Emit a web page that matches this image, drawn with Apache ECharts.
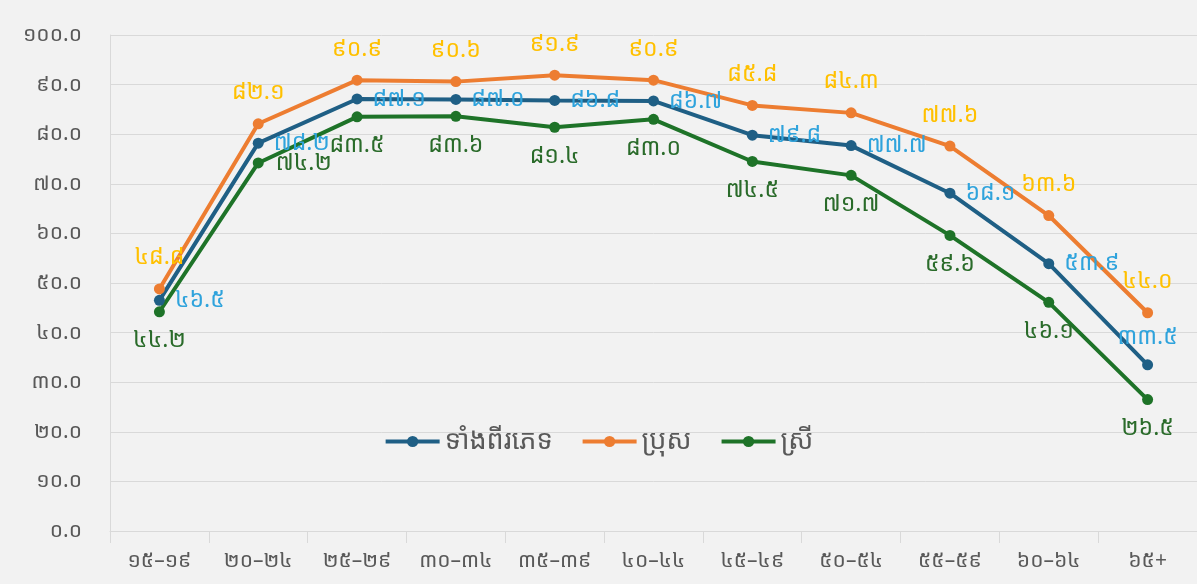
<!DOCTYPE html>
<html lang="km">
<head>
    <meta charset="UTF-8">
    <title>អត្រាចូលរួមកម្លាំងពលកម្ម</title>
    <script src="https://cdn.jsdelivr.net/npm/echarts@6/dist/echarts.min.js"></script>
    <style>
        html, body { margin: 0; padding: 0; background: #f2f2f2; }
        #main { width: 1197px; height: 584px; }
    </style>
</head>
<body>
<div id="main"></div>
<script type="text/javascript">
    // ក្រុមអាយុ
    var ageGroups = ['១៥–១៩', '២០–២៤', '២៥–២៩', '៣០–៣៤', '៣៥–៣៩', '៤០–៤៤', '៤៥–៤៩', '៥០–៥៤', '៥៥–៥៩', '៦០–៦៤', '៦៥+'];
    var seriesNames = ['ទាំងពីរភេទ', 'ប្រុស', 'ស្រី'];
    var bothSexes = [46.5, 78.2, 87.1, 87.0, 86.8, 86.7, 79.8, 77.7, 68.1, 53.9, 33.5];
    var male = [48.8, 82.1, 90.9, 90.6, 91.9, 90.9, 85.8, 84.3, 77.6, 63.6, 44.0];
    var female = [44.2, 74.2, 83.5, 83.6, 81.4, 83.0, 74.5, 71.7, 59.6, 46.1, 26.5];

    var khDigits = '០១២៣៤៥៦៧៨៩';
    function toKhmer(v) {
        return Number(v).toFixed(1).replace(/[0-9]/g, function (d) { return khDigits[+d]; });
    }

    var font = 'Noto Sans Khmer, Khmer OS, DejaVu Sans, sans-serif';
    var chart = echarts.init(document.getElementById('main'));

    // ស្លាកខ្លះត្រូវដាក់ទីតាំងផ្សេង ដើម្បីកុំឲ្យជាន់គ្នា
    function withLabelPos(data, special) {
        return data.map(function (v, i) {
            if (special[i]) return { value: v, label: { position: special[i] } };
            return v;
        });
    }

    function lineSeries(name, data, color, labelColor, pos, dist) {
        return {
            name: name,
            type: 'line',
            data: data,
            symbol: 'circle',
            symbolSize: 11,
            lineStyle: { width: 4, color: color },
            itemStyle: { color: color },
            label: {
                show: true,
                position: pos,
                distance: dist,
                color: labelColor,
                fontSize: 23,
                fontFamily: font,
                formatter: function (p) { return toKhmer(p.value); }
            },
            z: 3
        };
    }

    chart.setOption({
        backgroundColor: '#f2f2f2',
        animation: false,
        grid: { left: 110, right: 0, top: 35, bottom: 53 },
        legend: {
            left: 'center',
            top: 423,
            itemWidth: 54,
            itemHeight: 14,
            itemGap: 28,
            lineStyle: { width: 4 },
            textStyle: { fontSize: 27, color: '#595959', fontFamily: font },
            data: seriesNames
        },
        xAxis: {
            type: 'category',
            data: ageGroups,
            boundaryGap: true,
            axisLine: { lineStyle: { color: '#d9d9d9' } },
            axisTick: { show: true, length: 12, lineStyle: { color: '#d9d9d9' } },
            axisLabel: { color: '#595959', fontSize: 21, margin: 20, fontFamily: font }
        },
        yAxis: {
            type: 'value',
            min: 0,
            max: 100,
            interval: 10,
            axisLine: { show: true, lineStyle: { color: '#d9d9d9' } },
            splitLine: { lineStyle: { color: '#d9d9d9' } },
            axisLabel: {
                color: '#595959', fontSize: 21, margin: 28, fontFamily: font,
                formatter: function (v) { return toKhmer(v); }
            }
        },
        series: [
            lineSeries(seriesNames[0], withLabelPos(bothSexes, { 10: 'top' }), '#1f5f85', '#2fa3dc', 'right', 10),
            lineSeries(seriesNames[1], male, '#ed7d31', '#ffc000', 'top', 14),
            lineSeries(seriesNames[2], withLabelPos(female, { 1: 'right' }), '#1e7328', '#2a6b2a', 'bottom', 12)
        ]
    });
</script>
</body>
</html>
